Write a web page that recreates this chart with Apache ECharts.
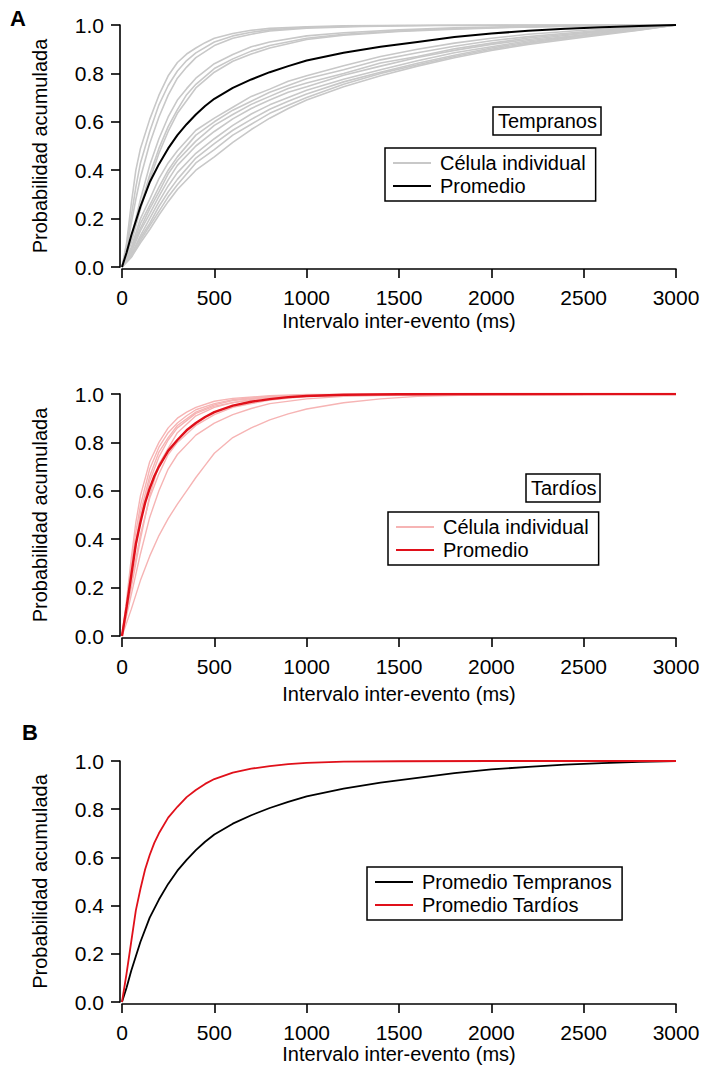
<!DOCTYPE html>
<html>
<head>
<meta charset="utf-8">
<script src="https://cdn.jsdelivr.net/npm/echarts@6/dist/echarts.min.js"></script>
<style>
  html, body { margin: 0; padding: 0; background: #fff; }
  #chart { width: 703px; height: 1068px; }
</style>
</head>
<body>
<div id="chart"></div>
<script>
// tick labels
const xTicks = [0, 500, 1000, 1500, 2000, 2500, 3000]
const yTicks = [0, 0.2, 0.4, 0.6, 0.8, 1.0]

// Promedio (mean CDFs), [ms, prob]
const promedioTempranos = [[0,0],[25,0.06],[50,0.13],[75,0.19],[100,0.25],[150,0.35],[200,0.425],[250,0.49],[300,0.545],[350,0.59],[400,0.63],[450,0.665],[500,0.695],[600,0.74],[700,0.775],[800,0.805],[900,0.83],[1000,0.853],[1200,0.885],[1400,0.91],[1600,0.93],[1800,0.95],[2000,0.965],[2200,0.976],[2400,0.985],[2600,0.991],[2800,0.996],[3000,1]]
const promedioTardios = [[0,0],[25,0.12],[50,0.25],[75,0.38],[100,0.47],[125,0.55],[150,0.61],[175,0.66],[200,0.70],[250,0.765],[300,0.81],[350,0.85],[400,0.88],[450,0.905],[500,0.925],[600,0.952],[700,0.968],[800,0.979],[900,0.987],[1000,0.992],[1200,0.997],[1500,0.999],[2000,1],[3000,1]]

// Tempranos, célula individual
const temp1 = [[0,0],[25,0.10],[50,0.26],[75,0.40],[100,0.49],[150,0.61],[200,0.71],[250,0.79],[300,0.845],[350,0.88],[400,0.905],[450,0.927],[500,0.945],[600,0.965],[700,0.978],[800,0.986],[1000,0.993],[1200,0.997],[1500,0.999],[3000,1]]
const temp2 = [[0,0],[25,0.08],[50,0.21],[75,0.33],[100,0.43],[150,0.56],[200,0.67],[250,0.75],[300,0.81],[350,0.853],[400,0.885],[500,0.93],[600,0.955],[700,0.97],[800,0.98],[1000,0.99],[1300,0.996],[1700,0.999],[3000,1]]
const temp3 = [[0,0],[25,0.07],[50,0.18],[75,0.28],[100,0.37],[150,0.51],[200,0.62],[250,0.71],[300,0.78],[350,0.826],[400,0.865],[500,0.915],[600,0.945],[700,0.962],[800,0.975],[1000,0.987],[1300,0.994],[1700,0.998],[3000,1]]
const temp4 = [[0,0],[25,0.05],[50,0.12],[75,0.20],[100,0.28],[150,0.42],[200,0.53],[250,0.62],[300,0.69],[350,0.737],[400,0.78],[500,0.84],[600,0.878],[700,0.91],[800,0.93],[1000,0.955],[1200,0.968],[1500,0.98],[1800,0.988],[2100,0.993],[2500,0.997],[3000,1]]
const temp5 = [[0,0],[25,0.05],[50,0.11],[75,0.18],[100,0.25],[150,0.38],[200,0.49],[250,0.58],[300,0.65],[350,0.712],[400,0.755],[500,0.82],[600,0.86],[700,0.892],[800,0.915],[1000,0.945],[1200,0.962],[1500,0.975],[1800,0.985],[2100,0.991],[2500,0.996],[3000,1]]
const temp6 = [[0,0],[50,0.10],[100,0.24],[150,0.36],[200,0.47],[250,0.56],[300,0.635],[400,0.74],[500,0.805],[600,0.85],[700,0.88],[800,0.905],[1000,0.94],[1200,0.958],[1500,0.973],[1800,0.983],[2100,0.99],[2500,0.996],[3000,1]]
const temp7 = [[0,0],[50,0.08],[100,0.20],[150,0.28],[200,0.365],[250,0.43],[300,0.48],[400,0.565],[500,0.615],[600,0.66],[700,0.705],[800,0.735],[900,0.768],[1000,0.79],[1200,0.832],[1400,0.87],[1600,0.90],[1800,0.925],[2000,0.945],[2200,0.962],[2500,0.978],[2800,0.992],[3000,1]]
const temp8 = [[0,0],[50,0.07],[100,0.18],[150,0.255],[200,0.33],[250,0.40],[300,0.455],[400,0.545],[500,0.60],[600,0.648],[700,0.685],[800,0.722],[900,0.75],[1000,0.778],[1200,0.815],[1400,0.856],[1600,0.885],[1800,0.912],[2000,0.935],[2200,0.952],[2500,0.972],[2800,0.99],[3000,1]]
const temp9 = [[0,0],[50,0.07],[100,0.16],[150,0.24],[200,0.31],[250,0.385],[300,0.44],[400,0.52],[500,0.585],[600,0.63],[700,0.672],[800,0.705],[900,0.738],[1000,0.76],[1200,0.80],[1400,0.843],[1600,0.87],[1800,0.902],[2000,0.925],[2200,0.946],[2500,0.968],[2800,0.988],[3000,1]]
const temp10 = [[0,0],[50,0.06],[100,0.15],[150,0.22],[200,0.292],[250,0.36],[300,0.42],[400,0.50],[500,0.56],[600,0.612],[700,0.655],[800,0.69],[900,0.722],[1000,0.745],[1200,0.792],[1400,0.83],[1600,0.866],[1800,0.895],[2000,0.92],[2200,0.94],[2500,0.965],[2800,0.985],[3000,1]]
const temp11 = [[0,0],[50,0.05],[100,0.13],[150,0.20],[200,0.27],[250,0.335],[300,0.39],[400,0.47],[500,0.53],[600,0.585],[700,0.632],[800,0.67],[900,0.70],[1000,0.73],[1200,0.776],[1400,0.815],[1600,0.852],[1800,0.885],[2000,0.91],[2200,0.935],[2500,0.96],[2800,0.983],[3000,1]]
const temp12 = [[0,0],[50,0.05],[100,0.12],[150,0.18],[200,0.25],[250,0.31],[300,0.362],[400,0.45],[500,0.51],[600,0.565],[700,0.61],[800,0.652],[900,0.685],[1000,0.715],[1200,0.765],[1400,0.805],[1600,0.842],[1800,0.875],[2000,0.905],[2200,0.93],[2500,0.958],[2800,0.982],[3000,1]]
const temp13 = [[0,0],[50,0.04],[100,0.11],[150,0.17],[200,0.23],[250,0.29],[300,0.34],[400,0.43],[500,0.485],[600,0.545],[700,0.59],[800,0.635],[900,0.668],[1000,0.70],[1200,0.755],[1400,0.80],[1600,0.836],[1800,0.87],[2000,0.90],[2200,0.925],[2500,0.955],[2800,0.98],[3000,1]]
const temp14 = [[0,0],[50,0.04],[100,0.10],[150,0.155],[200,0.215],[250,0.27],[300,0.32],[400,0.40],[500,0.455],[600,0.515],[700,0.568],[800,0.615],[900,0.655],[1000,0.69],[1200,0.745],[1400,0.79],[1600,0.83],[1800,0.865],[2000,0.895],[2200,0.92],[2500,0.95],[2800,0.978],[3000,1]]

// Tardíos, célula individual
const tard1 = [[0,0],[25,0.15],[50,0.32],[75,0.47],[100,0.58],[150,0.72],[200,0.80],[250,0.86],[300,0.90],[350,0.925],[400,0.945],[500,0.97],[600,0.982],[800,0.993],[1000,0.998],[3000,1]]
const tard2 = [[0,0],[25,0.13],[50,0.29],[75,0.43],[100,0.54],[150,0.69],[200,0.78],[250,0.84],[300,0.88],[350,0.91],[400,0.935],[500,0.96],[600,0.977],[800,0.99],[1000,0.996],[3000,1]]
const tard3 = [[0,0],[25,0.12],[50,0.27],[100,0.51],[150,0.66],[200,0.76],[250,0.82],[300,0.87],[400,0.925],[500,0.955],[600,0.973],[800,0.988],[1000,0.995],[3000,1]]
const tard4 = [[0,0],[50,0.25],[100,0.49],[150,0.64],[200,0.74],[250,0.81],[300,0.86],[400,0.92],[500,0.95],[700,0.978],[900,0.99],[1200,0.997],[3000,1]]
const tard5 = [[0,0],[50,0.20],[100,0.40],[150,0.58],[200,0.71],[300,0.84],[400,0.91],[500,0.945],[600,0.965],[800,0.984],[1000,0.993],[3000,1]]
const tard6 = [[0,0],[50,0.22],[100,0.42],[150,0.57],[200,0.67],[250,0.75],[300,0.80],[400,0.87],[500,0.915],[600,0.945],[700,0.96],[800,0.975],[1000,0.99],[1300,0.998],[3000,1]]
const tard7 = [[0,0],[50,0.17],[100,0.34],[150,0.49],[200,0.60],[250,0.69],[300,0.75],[400,0.83],[500,0.88],[600,0.915],[700,0.94],[800,0.96],[1000,0.98],[1200,0.99],[1500,0.997],[3000,1]]
const tard8 = [[0,0],[50,0.11],[100,0.23],[150,0.33],[200,0.415],[250,0.485],[300,0.545],[350,0.60],[400,0.655],[450,0.705],[500,0.755],[600,0.82],[700,0.86],[800,0.893],[900,0.918],[1000,0.938],[1200,0.964],[1400,0.98],[1600,0.99],[2000,0.998],[3000,1]]

const tempranosCells = [temp1, temp2, temp3, temp4, temp5, temp6, temp7, temp8, temp9, temp10, temp11, temp12, temp13, temp14]
const tardiosCells = [tard1, tard2, tard3, tard4, tard5, tard6, tard7, tard8]

const FONT = 'Liberation Sans, Arial, sans-serif'
const GRAY = '#c8c8c8'
const PINK = '#f6b4b4'
const RED = '#e0101a'

const grids = [
  { left: 122, right: 27, top: 25, height: 242 },
  { left: 122, right: 27, top: 394, height: 242 },
  { left: 122, right: 27, top: 761, height: 241 }
]

function xAxisFor(i, gap) {
  return {
    gridIndex: i,
    type: 'value',
    min: xTicks[0],
    max: xTicks[xTicks.length - 1],
    interval: 500,
    offset: 2,
    name: 'Intervalo inter-evento (ms)',
    nameLocation: 'middle',
    nameGap: gap,
    nameTextStyle: { color: '#000', fontSize: 20, fontFamily: FONT },
    axisLine: { show: true, onZero: false, lineStyle: { color: '#000', width: 1.6 } },
    axisTick: { show: true, inside: false, length: 9, lineStyle: { color: '#000', width: 1.6 } },
    axisLabel: { color: '#000', fontSize: 21, fontFamily: FONT, margin: 18, formatter: v => String(v) },
    splitLine: { show: false }
  }
}

function yAxisFor(i) {
  return {
    gridIndex: i,
    type: 'value',
    min: yTicks[0],
    max: yTicks[yTicks.length - 1],
    interval: 0.2,
    offset: 2,
    name: 'Probabilidad acumulada',
    nameLocation: 'middle',
    nameGap: 70,
    nameTextStyle: { color: '#000', fontSize: 20, fontFamily: FONT },
    axisLine: { show: true, onZero: false, lineStyle: { color: '#000', width: 1.6 } },
    axisTick: { show: true, inside: false, length: 9, lineStyle: { color: '#000', width: 1.6 } },
    axisLabel: { color: '#000', fontSize: 21, fontFamily: FONT, margin: 16, formatter: v => v.toFixed(1) },
    splitLine: { show: false }
  }
}

function line(name, data, i, color, width) {
  return {
    name: name,
    type: 'line',
    xAxisIndex: i,
    yAxisIndex: i,
    data: data,
    symbol: 'none',
    animation: false,
    lineStyle: { color: color, width: width },
    itemStyle: { color: color },
    emphasis: { disabled: true }
  }
}

const series = []
tempranosCells.forEach(d => series.push(line('Célula individual', d, 0, GRAY, 1.6)))
series.push(line('Promedio', promedioTempranos, 0, '#000', 2))
tardiosCells.forEach(d => series.push(line('Célula individual', d, 1, PINK, 1.4)))
series.push(line('Promedio', promedioTardios, 1, RED, 2.4))
series.push(line('Promedio Tempranos', promedioTempranos, 2, '#000', 1.8))
series.push(line('Promedio Tardíos', promedioTardios, 2, RED, 1.8))

function legendFor(left, top, items) {
  return {
    orient: 'vertical',
    left: left,
    top: top,
    selectedMode: false,
    icon: 'rect',
    padding: [5, 10, 5, 8],
    itemWidth: 38,
    itemHeight: 2,
    itemGap: 3,
    borderColor: '#000',
    borderWidth: 1.5,
    textStyle: { color: '#000', fontSize: 20, fontFamily: FONT, padding: [0, 0, 0, 4], lineHeight: 20 },
    data: items
  }
}

const boxText = { color: '#000', fontSize: 20, fontWeight: 'normal', fontFamily: FONT }
const panelLetter = { color: '#000', fontSize: 22, fontWeight: 'bold', fontFamily: FONT }

const option = {
  backgroundColor: '#fff',
  animation: false,
  title: [
    { text: 'A', left: 10, top: 7, padding: 0, textStyle: panelLetter },
    { text: 'B', left: 22, top: 721, padding: 0, textStyle: panelLetter },
    { text: 'Tempranos', left: 493, top: 107, padding: [4, 4, 4, 5], borderColor: '#000', borderWidth: 1.5, textStyle: boxText },
    { text: 'Tardíos', left: 526, top: 474, padding: [4, 4, 4, 5], borderColor: '#000', borderWidth: 1.5, textStyle: boxText }
  ],
  legend: [
    legendFor(385, 148, [
      { name: 'Célula individual', itemStyle: { color: GRAY } },
      { name: 'Promedio', itemStyle: { color: '#000' } }
    ]),
    legendFor(388, 512, [
      { name: 'Célula individual', itemStyle: { color: PINK } },
      { name: 'Promedio', itemStyle: { color: RED } }
    ]),
    legendFor(367, 867, [
      { name: 'Promedio Tempranos', itemStyle: { color: '#000' } },
      { name: 'Promedio Tardíos', itemStyle: { color: RED } }
    ])
  ],
  grid: grids,
  xAxis: [xAxisFor(0, 42), xAxisFor(1, 46), xAxisFor(2, 37)],
  yAxis: [yAxisFor(0), yAxisFor(1), yAxisFor(2)],
  series: series
}

const chart = echarts.init(document.getElementById('chart'), null, { renderer: 'svg' })
chart.setOption(option)
</script>
</body>
</html>
